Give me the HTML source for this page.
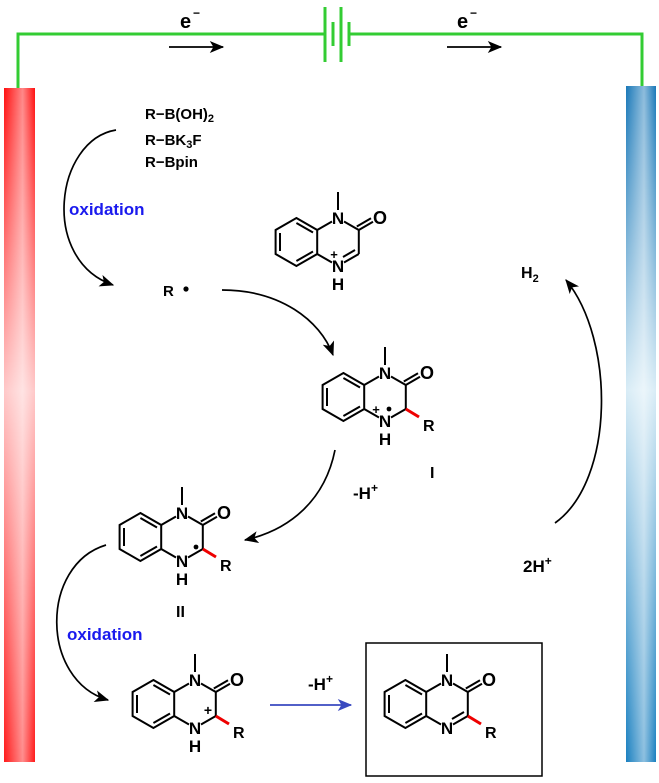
<!DOCTYPE html>
<html><head><meta charset="utf-8"><style>
html,body{margin:0;padding:0;background:#fff}
svg{display:block}
text{font-family:"Liberation Sans",Arial,sans-serif;font-weight:bold}
</style></head><body>
<svg width="659" height="783" viewBox="0 0 659 783" xmlns="http://www.w3.org/2000/svg">
<defs>
<linearGradient id="red" x1="0" y1="0" x2="0" y2="1">
<stop offset="0" stop-color="#ff1010"/><stop offset="0.45" stop-color="#ffc8c8"/><stop offset="1" stop-color="#ff1a1a"/></linearGradient>
<linearGradient id="redh" x1="0" y1="0" x2="1" y2="0">
<stop offset="0" stop-color="#fff" stop-opacity="0"/><stop offset="0.6" stop-color="#fff" stop-opacity="0.5"/><stop offset="1" stop-color="#fff" stop-opacity="0"/></linearGradient>
<linearGradient id="blue" x1="0" y1="0" x2="0" y2="1">
<stop offset="0" stop-color="#1a78b8"/><stop offset="0.45" stop-color="#d8ecf6"/><stop offset="1" stop-color="#1a80c0"/></linearGradient>
<marker id="ah" viewBox="0 0 12 10" refX="11" refY="5" markerWidth="15" markerHeight="12" markerUnits="userSpaceOnUse" orient="auto"><path d="M0,0 L12,5 L0,10 L3,5 Z" fill="#000"/></marker>
<marker id="ahb" viewBox="0 0 12 10" refX="11" refY="5" markerWidth="15" markerHeight="12" markerUnits="userSpaceOnUse" orient="auto"><path d="M0,0 L12,5 L0,10 L3,5 Z" fill="#3a4ac0"/></marker>
<g id="core" stroke="#000" stroke-width="2" fill="none">
<polygon points="-41.6,0 -20.8,12 -20.8,36 -41.6,48 -62.4,36 -62.4,12"/>
<line x1="-58" y1="15" x2="-58" y2="33"/>
<line x1="-41.6" y1="5" x2="-25" y2="14.5"/>
<line x1="-25" y1="33.5" x2="-41.6" y2="43"/>
<line x1="-20.8" y1="12" x2="-6" y2="3.5"/>
<line x1="-20.8" y1="36" x2="-6" y2="44.5"/>
<line x1="6" y1="3.5" x2="20.8" y2="12"/>
<line x1="20.8" y1="12" x2="20.8" y2="36"/>
<line x1="0" y1="-8" x2="0" y2="-26"/>
<line x1="20.8" y1="12" x2="35" y2="3.8"/>
<line x1="18.8" y1="8.5" x2="33" y2="0.3"/>
</g>
</defs>

<g stroke="#33cc33" stroke-width="3" fill="none">
<polyline points="18,88 18,34 325,34"/>
<polyline points="349,34 642,34 642,88"/>
<line x1="325" y1="7" x2="325" y2="62"/>
<line x1="341" y1="7" x2="341" y2="62"/>
<line x1="333" y1="22" x2="333" y2="46"/>
<line x1="349" y1="22" x2="349" y2="46"/>
</g>
<text x="180" y="28" font-size="20">e</text><text x="193" y="17" font-size="12">−</text>
<text x="457" y="28" font-size="20">e</text><text x="470" y="17" font-size="12">−</text>
<line x1="169" y1="47" x2="223" y2="47" stroke="#000" stroke-width="1.8" marker-end="url(#ah)"/>
<line x1="447" y1="47" x2="501" y2="47" stroke="#000" stroke-width="1.8" marker-end="url(#ah)"/>

<rect x="4" y="88" width="31" height="674" fill="url(#red)"/>
<rect x="4" y="88" width="31" height="674" fill="url(#redh)"/>
<rect x="626" y="86" width="30" height="676" fill="url(#blue)"/>
<rect x="626" y="86" width="30" height="676" fill="url(#redh)"/>

<text x="145" y="119" font-size="15">R−B(OH)<tspan font-size="11" dy="3">2</tspan></text>
<text x="145" y="145" font-size="15">R−BK<tspan font-size="11" dy="3">3</tspan><tspan dy="-3">F</tspan></text>
<text x="145" y="167" font-size="15">R−Bpin</text>
<text x="69" y="215" font-size="17" fill="#1a1aee">oxidation</text>
<text x="67" y="640" font-size="17" fill="#1a1aee">oxidation</text>
<text x="163" y="296" font-size="15">R</text>
<circle cx="186" cy="289" r="2.6" fill="#000"/>

<g stroke="#000" stroke-width="1.7" fill="none" marker-end="url(#ah)">
<path d="M116,130 C55,140 40,260 113,285"/>
<path d="M222,290 C280,290 320,320 333,355"/>
<path d="M335,450 C325,500 290,530 245,540"/>
<path d="M106,545 C40,565 40,680 108,700"/>
<path d="M555,523 C615,480 615,340 566,280"/>
</g>
<line x1="270" y1="705" x2="351" y2="705" stroke="#3a4ac0" stroke-width="1.7" marker-end="url(#ahb)"/>

<g transform="translate(338,218)">
<use href="#core"/>
<g stroke="#000" stroke-width="2"><line x1="20.8" y1="36" x2="6" y2="44.5"/><line x1="17" y1="32" x2="5" y2="39"/></g>
<text x="0" y="6" font-size="17" text-anchor="middle">N</text>
<text x="42" y="6" font-size="18" text-anchor="middle">O</text>
<text x="0" y="54" font-size="17" text-anchor="middle">N</text>
<text x="-4" y="41" font-size="13" text-anchor="middle">+</text>
<text x="0" y="72" font-size="17" text-anchor="middle">H</text>
</g>

<g transform="translate(385,373)">
<use href="#core"/>
<g stroke="#000" stroke-width="2"><line x1="20.8" y1="36" x2="6" y2="44.5"/></g>
<line x1="20.8" y1="36" x2="34" y2="44" stroke="#e00" stroke-width="3"/>
<text x="0" y="6" font-size="17" text-anchor="middle">N</text>
<text x="42" y="6" font-size="18" text-anchor="middle">O</text>
<text x="0" y="54" font-size="17" text-anchor="middle">N</text>
<text x="-9" y="41" font-size="13" text-anchor="middle">+</text>
<circle cx="4" cy="36" r="2.4" fill="#000"/>
<text x="0" y="72" font-size="17" text-anchor="middle">H</text>
<text x="38" y="58" font-size="16">R</text>
</g>
<text x="430" y="478" font-size="16">I</text>
<text x="353" y="499" font-size="17">-H<tspan font-size="12" dy="-7">+</tspan></text>

<g transform="translate(182,513)">
<use href="#core"/>
<g stroke="#000" stroke-width="2"><line x1="20.8" y1="36" x2="6" y2="44.5"/></g>
<line x1="20.8" y1="36" x2="34" y2="44" stroke="#e00" stroke-width="3"/>
<text x="0" y="6" font-size="17" text-anchor="middle">N</text>
<text x="42" y="6" font-size="18" text-anchor="middle">O</text>
<text x="0" y="54" font-size="17" text-anchor="middle">N</text>
<circle cx="14" cy="34" r="2.4" fill="#000"/>
<text x="0" y="72" font-size="17" text-anchor="middle">H</text>
<text x="38" y="58" font-size="16">R</text>
</g>
<text x="176" y="617" font-size="16">II</text>

<g transform="translate(195,680)">
<use href="#core"/>
<g stroke="#000" stroke-width="2"><line x1="20.8" y1="36" x2="6" y2="44.5"/></g>
<line x1="20.8" y1="36" x2="34" y2="44" stroke="#e00" stroke-width="3"/>
<text x="0" y="6" font-size="17" text-anchor="middle">N</text>
<text x="42" y="6" font-size="18" text-anchor="middle">O</text>
<text x="0" y="54" font-size="17" text-anchor="middle">N</text>
<text x="13" y="35" font-size="14" text-anchor="middle">+</text>
<text x="0" y="72" font-size="17" text-anchor="middle">H</text>
<text x="38" y="58" font-size="16">R</text>
</g>
<text x="308" y="690" font-size="17">-H<tspan font-size="12" dy="-7">+</tspan></text>

<rect x="366" y="643" width="176" height="133" fill="none" stroke="#000" stroke-width="1.5"/>
<g transform="translate(447,680)">
<use href="#core"/>
<g stroke="#000" stroke-width="2"><line x1="20.8" y1="36" x2="6" y2="44.5"/><line x1="17" y1="32" x2="5" y2="39"/></g>
<line x1="20.8" y1="36" x2="34" y2="44" stroke="#e00" stroke-width="3"/>
<text x="0" y="6" font-size="17" text-anchor="middle">N</text>
<text x="42" y="6" font-size="18" text-anchor="middle">O</text>
<text x="0" y="54" font-size="17" text-anchor="middle">N</text>
<text x="38" y="58" font-size="16">R</text>
</g>

<text x="521" y="278" font-size="16">H<tspan font-size="11" dy="4">2</tspan></text>
<text x="523" y="572" font-size="17">2H<tspan font-size="12" dy="-7">+</tspan></text>
</svg>
</body></html>
